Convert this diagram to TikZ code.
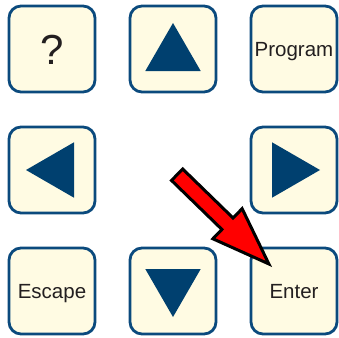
\documentclass[tikz,border=0pt]{standalone}
\usepackage{fontspec}
\setmainfont{Liberation Sans}
\usepackage{xcolor}
\definecolor{cEdge}{HTML}{0B4A7D}
\definecolor{cFill}{HTML}{FFFBE3}
\definecolor{cGlyph}{HTML}{00406F}
\definecolor{cText}{HTML}{231F20}
\definecolor{cPointer}{HTML}{FF0000}
\usetikzlibrary{positioning,shapes.geometric,shapes.arrows}
\tikzset{
  key-box/.style={draw=cEdge,line width=2.8pt,fill=cFill,rounded corners=12pt,
    minimum size=86pt,inner sep=0pt,outer sep=0pt,text=cText,
    text height=14.7pt,text depth=0pt,font=\fontsize{20.5}{24}\selectfont},
  key-glyph/.style={regular polygon,regular polygon sides=3,fill=cGlyph,
    minimum size=64pt,inner sep=0pt},
  key-pointer/.style={single arrow,draw=black,fill=cPointer,line width=3pt,
    inner sep=0pt,inner ysep=6.5pt,single arrow head extend=13pt,
    single arrow tip angle=40,minimum height=128pt},
}
\begin{document}
\begin{tikzpicture}[node distance=35pt]
  \useasboundingbox (0,0) rectangle (339pt,-337pt);
  % keypad
  \node[key-box,text height=30pt,font=\fontsize{42}{46}\selectfont]
    (help) at (52pt,-49pt) {?};
  \node[key-box,right=of help] (up) {};
  \node[key-box,right=of up] (prog) {Program};
  \node[key-box,below=of help] (left) {};
  \node[key-box,below=of prog] (right) {};
  \node[key-box,below=of left] (esc) {Escape};
  \node[key-box,right=of esc] (down) {};
  \node[key-box,right=of down] (enter) {Enter};
  % direction glyphs
  \node[key-glyph,yshift=-6pt] (up-tri) at (up) {};
  \node[key-glyph,shape border rotate=180,yshift=6pt] (down-tri) at (down) {};
  \node[key-glyph,shape border rotate=90,xshift=6pt] (left-tri) at (left) {};
  \node[key-glyph,shape border rotate=-90,xshift=-6pt] (right-tri) at (right) {};
  % pointer to Enter
  \node[key-pointer,rotate=-44.2,anchor=tip] (hint)
    at ([xshift=21pt,yshift=-19pt]enter.north west) {};
\end{tikzpicture}
\end{document}
